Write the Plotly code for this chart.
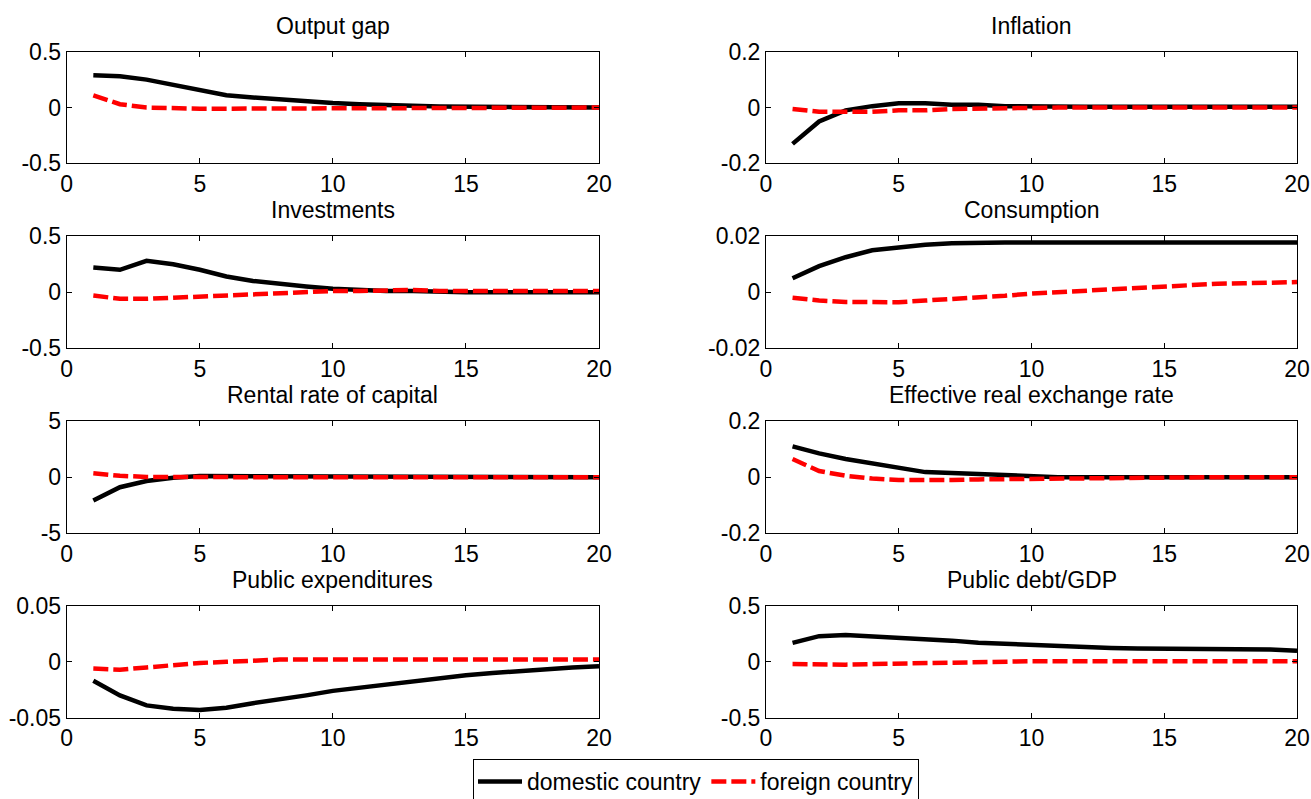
import plotly.graph_objects as go

W, H = 1311, 799
periods = list(range(1, 21))

titles = ["Output gap", "Inflation", "Investments", "Consumption",
          "Rental rate of capital", "Effective real exchange rate",
          "Public expenditures", "Public debt/GDP"]

output_dom = [0.29, 0.28, 0.25, 0.20, 0.16, 0.11, 0.09, 0.07, 0.05, 0.04, 0.03, 0.02, 0.015, 0.01, 0.01, 0.01, 0.01, 0.01, 0.0, 0.0]
output_for = [0.11, 0.03, 0.0, -0.01, -0.01, -0.01, -0.01, -0.005, 0.0, 0.0, 0.0, 0.0, 0.0, 0.0, 0.0, 0.0, 0.0, 0.0, 0.0, 0.0]

infl_dom = [-0.13, -0.05, -0.01, 0.005, 0.015, 0.015, 0.01, 0.01, 0.005, 0.003, 0.003, 0.003, 0.003, 0.003, 0.003, 0.003, 0.003, 0.003, 0.003, 0.003]
infl_for = [-0.005, -0.015, -0.015, -0.015, -0.01, -0.01, -0.005, -0.003, -0.002, 0.0, 0.0, 0.0, 0.0, 0.0, 0.0, 0.0, 0.0, 0.0, 0.0, 0.0]

inv_dom = [0.22, 0.20, 0.28, 0.25, 0.20, 0.14, 0.10, 0.07, 0.05, 0.03, 0.02, 0.01, 0.01, 0.0, 0.0, 0.0, 0.0, 0.0, 0.0, 0.0]
inv_for = [-0.03, -0.06, -0.06, -0.05, -0.04, -0.03, -0.02, -0.01, 0.0, 0.01, 0.01, 0.02, 0.02, 0.01, 0.01, 0.01, 0.01, 0.01, 0.01, 0.01]

cons_dom = [0.005, 0.0093, 0.0125, 0.015, 0.016, 0.017, 0.0175, 0.0178, 0.0178, 0.0178, 0.0178, 0.0178, 0.0178, 0.0178, 0.0178, 0.0178, 0.0178, 0.0178, 0.0178, 0.0178]
cons_for = [-0.002, -0.003, -0.0035, -0.0036, -0.0036, -0.003, -0.0025, -0.0018, -0.0013, -0.0005, 0.0, 0.0008, 0.0013, 0.0017, 0.002, 0.0025, 0.003, 0.0032, 0.0035, 0.0036]

rent_dom = [-2.1, -0.9, -0.35, -0.05, 0.1, 0.1, 0.1, 0.1, 0.1, 0.1, 0.08, 0.02, 0.0, 0.0, 0.0, 0.0, 0.0, 0.0, 0.0, 0.0]
rent_for = [0.35, 0.12, 0.02, 0.0, -0.02, -0.02, -0.02, -0.02, -0.02, -0.02, -0.02, -0.02, -0.02, -0.02, -0.02, 0.0, 0.05, 0.08, 0.05, 0.0]

erer_dom = [0.11, 0.085, 0.065, 0.048, 0.033, 0.018, 0.015, 0.011, 0.007, 0.003, 0.0, 0.0, 0.0, 0.0, 0.0, 0.0, 0.0, 0.0, 0.0, 0.0]
erer_for = [0.065, 0.022, 0.005, -0.005, -0.01, -0.012, -0.01, -0.008, -0.007, -0.006, -0.006, -0.002, 0.0, 0.0, 0.0, 0.0, 0.0, 0.0, 0.0, 0.0]

pexp_dom = [-0.017, -0.030, -0.039, -0.042, -0.043, -0.041, -0.037, -0.034, -0.030, -0.026, -0.023, -0.020, -0.017, -0.0145, -0.012, -0.010, -0.008, -0.0065, -0.005, -0.004]
pexp_for = [-0.006, -0.007, -0.005, -0.003, -0.001, 0.0, 0.001, 0.002, 0.002, 0.002, 0.002, 0.002, 0.002, 0.002, 0.002, 0.002, 0.002, 0.002, 0.002, 0.002]

debt_dom = [0.17, 0.23, 0.24, 0.23, 0.22, 0.20, 0.19, 0.17, 0.16, 0.15, 0.14, 0.135, 0.125, 0.12, 0.12, 0.11, 0.11, 0.11, 0.11, 0.10]
debt_for = [-0.02, -0.025, -0.025, -0.02, -0.015, -0.005, -0.005, -0.005, 0.0, 0.005, 0.005, 0.005, 0.005, 0.005, 0.005, 0.005, 0.005, 0.005, 0.005, 0.005]

domestic = [output_dom, infl_dom, inv_dom, cons_dom, rent_dom, erer_dom, pexp_dom, debt_dom]
foreign = [output_for, infl_for, inv_for, cons_for, rent_for, erer_for, pexp_for, debt_for]

y_limits = [0.5, 0.2, 0.5, 0.02, 5, 0.2, 0.05, 0.5]
y_ticklabels = [["-0.5", "0", "0.5"], ["-0.2", "0", "0.2"], ["-0.5", "0", "0.5"],
                ["-0.02", "0", "0.02"], ["-5", "0", "5"], ["-0.2", "0", "0.2"],
                ["-0.05", "0", "0.05"], ["-0.5", "0", "0.5"]]
x_ticks = [0, 5, 10, 15, 20]

FONT = "Liberation Sans, Arial, sans-serif"
FS = 23

col_px = [(66.7, 599), (766, 1297)]
row_top = [51.7, 236.3, 421.3, 606]
row_h = 111.7

fig = go.Figure()
layout = {}
annotations = []
for i in range(8):
    r, c = divmod(i, 2)
    n = i + 1
    xa = "xaxis" if n == 1 else f"xaxis{n}"
    ya = "yaxis" if n == 1 else f"yaxis{n}"
    xref = "x" if n == 1 else f"x{n}"
    yref = "y" if n == 1 else f"y{n}"
    x0, x1 = col_px[c]
    y0 = row_top[r]
    y1 = y0 + row_h
    lim = y_limits[i]
    layout[xa] = dict(domain=[x0 / W, x1 / W], anchor=yref, range=[0, 20],
                      tickvals=x_ticks, ticktext=[str(v) for v in x_ticks],
                      showline=True, linecolor="black", linewidth=1, mirror="ticks",
                      ticks="inside", ticklen=5, tickcolor="black", showgrid=False,
                      zeroline=False, automargin=False,
                      tickfont=dict(family=FONT, size=FS, color="black"))
    layout[ya] = dict(domain=[1 - y1 / H, 1 - y0 / H], anchor=xref, range=[-lim, lim],
                      tickvals=[-lim, 0, lim], ticktext=y_ticklabels[i],
                      showline=True, linecolor="black", linewidth=1, mirror="ticks",
                      ticks="inside", ticklen=5, tickcolor="black", showgrid=False,
                      zeroline=False, automargin=False,
                      tickfont=dict(family=FONT, size=FS, color="black"))
    fig.add_trace(go.Scatter(x=periods, y=domestic[i], mode="lines", xaxis=xref, yaxis=yref,
                             line=dict(color="black", width=4.5),
                             name="domestic country", showlegend=(i == 0),
                             legendgroup="dom"))
    fig.add_trace(go.Scatter(x=periods, y=foreign[i], mode="lines", xaxis=xref, yaxis=yref,
                             line=dict(color="#ff0000", width=4.5, dash="15px,5px"),
                             name="foreign country", showlegend=(i == 0),
                             legendgroup="for"))
    annotations.append(dict(text=titles[i], xref="paper", yref="paper",
                            x=(x0 + x1) / 2 / W, y=1 - (y0 - 26) / H, showarrow=False,
                            xanchor="center", yanchor="middle",
                            font=dict(family=FONT, size=FS, color="black")))

fig.update_layout(**layout)
fig.update_layout(
    width=W, height=H,
    margin=dict(l=0, r=0, t=0, b=0, pad=0, autoexpand=False),
    paper_bgcolor="white", plot_bgcolor="white",
    annotations=annotations,
    font=dict(family=FONT, size=FS, color="black"),
    legend=dict(orientation="h", x=696 / W, xanchor="center", y=1 - 759 / H, yanchor="top",
                bordercolor="black", borderwidth=1, bgcolor="white",
                font=dict(family=FONT, size=FS, color="black"),
                itemwidth=44, tracegroupgap=0),
)
fig.write_html("out.html", config={"displayModeBar": False},
               post_script="document.body.style.margin='0';document.body.style.overflow='hidden';")
